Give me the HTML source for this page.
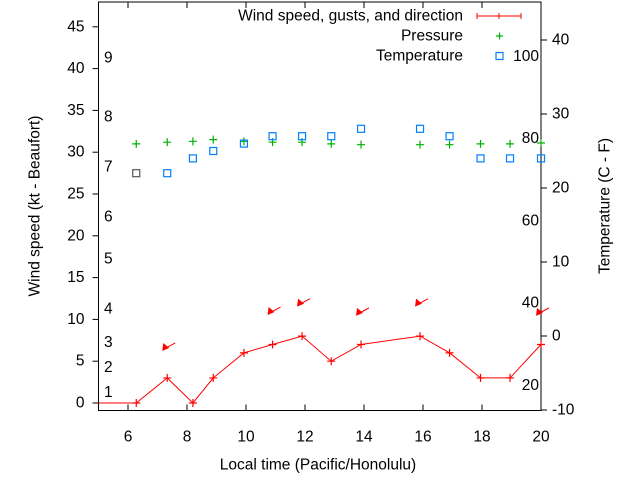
<!DOCTYPE html>
<html><head><meta charset="utf-8"><style>
body{margin:0;background:#fff;}
svg{display:block;font-family:"Liberation Sans",sans-serif;}
</style></head><body>
<svg id="chart" width="640" height="480" xmlns="http://www.w3.org/2000/svg">
<g id="plot"></g>
</svg>
<script>
const hours=[6.28,7.33,8.2,8.89,9.93,10.9,11.9,12.89,13.9,15.9,16.9,17.95,18.95,20];
const windKt=[0,3,0,3,6,7,8,5,7,8,6,3,3,7];
const gustHours=[7.33,10.9,11.9,13.9,15.9,20];
const gustKt=[6.7,11,12,10.9,12,10.9];
const pressure=[31.0,31.2,31.3,31.5,31.3,31.2,31.2,31.0,30.9,30.9,30.9,31.0,31.0,31.1];
const tempC=[22,22,24,25,26,27,27,27,28,28,27,24,24,24];
const xTicks=[6,8,10,12,14,16,18,20];
const yTicks=[0,5,10,15,20,25,30,35,40,45];
const tTicks=[-10,0,10,20,30,40];
const beaufort=[[1,1],[2,4],[3,7],[4,11],[5,17],[6,22],[7,28],[8,34],[9,41]];
const fahr=[20,40,60,80,100];

const FS=15.5;
const L=98.5,R=541,T=2,B=410.5;
const X=h=>L+(h-5)*(R-L)/15;
const Y=k=>403-k*8.36;
const TY=c=>336-c*7.4;
const FY=f=>TY((f-32)*5/9);
const NS="http://www.w3.org/2000/svg";
const g=document.getElementById('plot');
function mk(tag,a,parent){const e=document.createElementNS(NS,tag);for(const k in a)e.setAttribute(k,a[k]);(parent||g).appendChild(e);return e;}
function txt(s,x,y,anchor,size,extra){const e=mk('text',Object.assign({x:x,y:y,'text-anchor':anchor,'font-size':size||FS,fill:'#000','dominant-baseline':'central'},extra||{}));e.textContent=s;return e;}

const fr=mk('rect',{x:L,y:T,width:R-L,height:B-T,fill:'none',stroke:'#000','stroke-width':1});



xTicks.forEach(h=>{
  mk('line',{x1:X(h),x2:X(h),y1:B,y2:B-6,stroke:'#000'});
  mk('line',{x1:X(h),x2:X(h),y1:T,y2:T+6,stroke:'#000'});
  const t=txt(String(h),X(h),437,'middle');
  
  
});
yTicks.forEach(k=>{
  mk('line',{x1:L-6,x2:L,y1:Y(k),y2:Y(k),stroke:'#000'});
  const t=txt(String(k),L-14,Y(k),'end');
  
  
});
tTicks.forEach(c=>{
  mk('line',{x1:R,x2:R+6,y1:TY(c),y2:TY(c),stroke:'#000'});
  const t=txt(String(c),R+11,TY(c),'start');
  
  
});
beaufort.forEach(([b,k])=>{
  const t=txt(String(b),104,Y(k)-2,'start');
  
  
});
fahr.forEach(f=>{
  const t=txt(String(f),539,FY(f),'end');
  
  
});

let t=txt('Local time (Pacific/Honolulu)',318,465,'middle');


t=txt('Wind speed (kt - Beaufort)',35,206,'middle',FS,{transform:'rotate(-90 35 206)'});


t=txt('Temperature (C - F)',605,206,'middle',FS,{transform:'rotate(-90 605 206)'});



pressure.forEach((p,i)=>{
  const x=X(hours[i]),y=Y(p);
  const e=mk('path',{d:`M${x-4} ${y}H${x+4}M${x} ${y-4}V${y+4}`,stroke:'#00b000','stroke-width':1.2});
  
  
});
tempC.forEach((c,i)=>{
  const x=X(hours[i]),y=TY(c);
  const e=mk('rect',{x:x-3.5,y:y-3.5,width:7,height:7,fill:'none',stroke:i===0?'#555':'#0080ff','stroke-width':1.2});
  
  
});
let d=`M${L} ${Y(windKt[0])}`;
hours.forEach((h,i)=>{d+=`L${X(h)} ${Y(windKt[i])}`;});
const wl=mk('path',{d:d,fill:'none',stroke:'#f00','stroke-width':1});


hours.forEach((h,i)=>{
  const x=X(h),y=Y(windKt[i]);
  const e=mk('path',{d:`M${x-4} ${y}H${x+4}M${x} ${y-4}V${y+4}`,stroke:'#f00','stroke-width':1.2});
  
  
});
gustHours.forEach((h,i)=>{
  const x=X(h),y=Y(gustKt[i]);
  const e=mk('g',{});
  
  
  mk('line',{x1:x-3,y1:y+2,x2:x+8,y2:y-4,stroke:'#f00','stroke-width':1},e);
  mk('polygon',{points:`${x-5},${y+4} ${x-4},${y-4} ${x+2},${y+1}`,fill:'#f00'},e);
});

const lg=mk('g',{});


t=txt('Wind speed, gusts, and direction',463,16,'end',FS,{});lg.appendChild(t);


mk('path',{d:'M477 16H521M477 13V19M521 13V19M499 13V19',stroke:'#f00','stroke-width':1},lg);
t=txt('Pressure',463,36,'end',FS,{});lg.appendChild(t);


mk('path',{d:'M496 36H503M499.5 32.5V39.5',stroke:'#00b000','stroke-width':1.2},lg);
t=txt('Temperature',463,56,'end',FS,{});lg.appendChild(t);


mk('rect',{x:496,y:52.5,width:7,height:7,fill:'none',stroke:'#0080ff','stroke-width':1.2},lg);
</script>
</body></html>
